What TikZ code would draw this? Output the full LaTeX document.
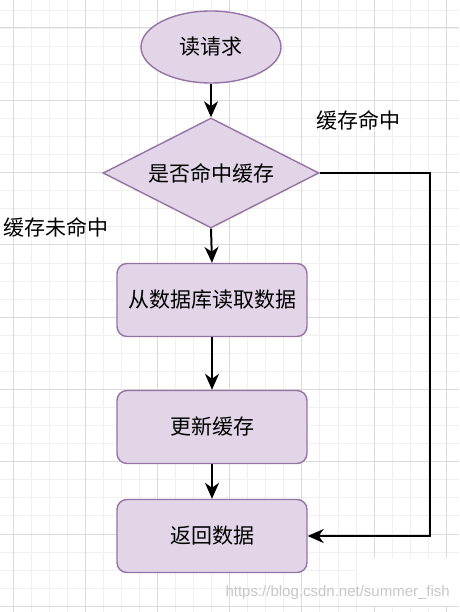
\documentclass[tikz,border=0pt]{standalone}
\usepackage{fontspec}
\newfontfamily\cjk{Noto Sans CJK SC}
\setsansfont{Liberation Sans}
\usetikzlibrary{shapes.geometric,arrows.meta}
\definecolor{fillp}{HTML}{E1D5E7}
\definecolor{drawp}{HTML}{9673A6}
\tikzset{
  minorgrid/.style={draw=black!6, line width=0.8pt},
  majorgrid/.style={draw=black!14, line width=1pt},
  shapebase/.style={fill=fillp, draw=drawp, line width=1.4pt, font=\cjk\fontsize{21}{24}\selectfont, inner sep=0pt},
  terminal/.style={shapebase, ellipse, minimum width=140pt, minimum height=72pt},
  decision/.style={shapebase, diamond, aspect=2, minimum width=216pt, minimum height=110pt},
  process/.style={shapebase, rounded corners=10pt, minimum width=190pt, minimum height=73pt},
  lbl/.style={font=\cjk\fontsize{21}{24}\selectfont, inner sep=0pt},
  flow/.style={line width=2pt, -{Stealth[length=16pt, width=14pt, inset=5pt]}}
}
\begin{document}
\begin{tikzpicture}[x=1pt,y=-1pt]
\useasboundingbox (0,0) rectangle (459,612);
\fill[white] (0,0) rectangle (459,612);
% grid
\foreach \i in {0,...,26} {\draw[minorgrid] ({-5.05+18.05*\i},0) -- ({-5.05+18.05*\i},612);}
\foreach \i in {0,...,34} {\draw[minorgrid] (0,{9.93+18.07*\i}) -- (459,{9.93+18.07*\i});}
\foreach \i in {0,...,6} {\draw[majorgrid] ({13+72.2*\i},0) -- ({13+72.2*\i},612);}
\foreach \i in {0,...,8} {\draw[majorgrid] (0,{28+72.3*\i}) -- (459,{28+72.3*\i});}
\fill[white] (357,558) rectangle (459,606);
% nodes
\node[terminal] (read) at (211,47) {读请求};
\node[decision] (hit) at (211,173) {是否命中缓存};
\node[process] (db) at (212,300) {从数据库读取数据};
\node[process] (upd) at (212,427) {更新缓存};
\node[process] (ret) at (212,536) {返回数据};
\coordinate (c1) at (430,173);
\coordinate (c2) at (430,536);
\node[lbl] (lhit) at (358,120) {缓存命中};
\node[lbl] (lmiss) at (56,227) {缓存未命中};
% connectors
\draw[flow] (read.south) -- (hit.north);
\draw[flow] (hit.south) -- (db.north);
\draw[flow] (db.south) -- (upd.north);
\draw[flow] (upd.south) -- (ret.north);
\draw[flow] (hit.east) -- (c1) -- (c2) -- (ret.east);
% watermark
\node[font=\sffamily\fontsize{15}{17}\selectfont, text=black!22, anchor=east, inner sep=0pt] (wm) at (450,593) {https://blog.csdn.net/summer\_fish};
\end{tikzpicture}
\end{document}
